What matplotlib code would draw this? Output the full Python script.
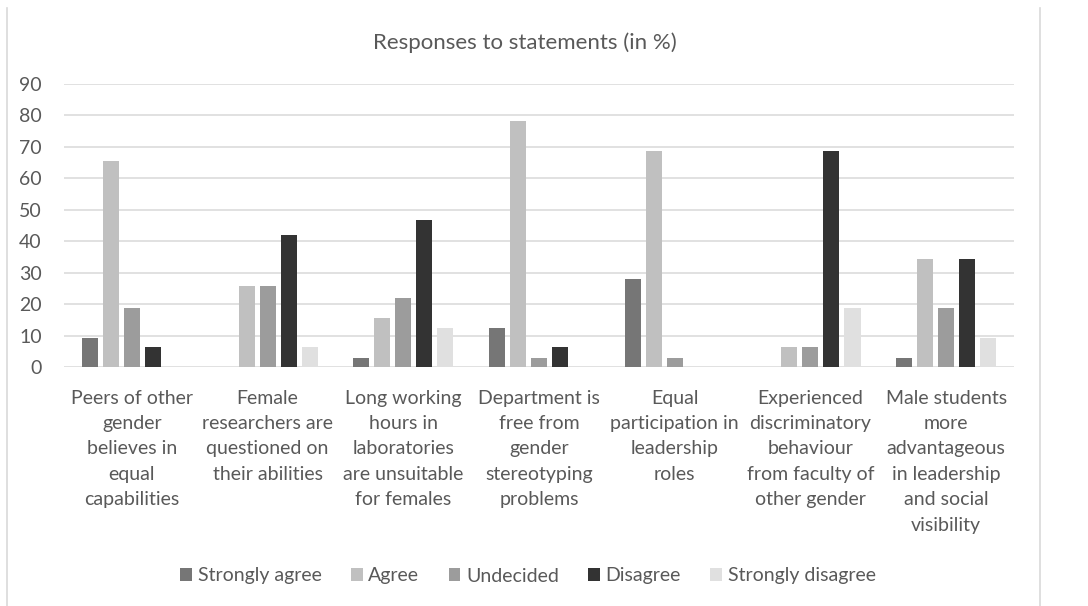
import matplotlib
matplotlib.use("Agg")
import matplotlib.pyplot as plt
import numpy as np

plt.rcParams['font.family'] = ['Lato', 'DejaVu Sans']

statements = [
    "Peers of other\ngender\nbelieves in\nequal\ncapabilities",
    "Female\nresearchers are\nquestioned on\ntheir abilities",
    "Long working\nhours in\nlaboratories\nare unsuitable\nfor females",
    "Department is\nfree from\ngender\nstereotyping\nproblems",
    "Equal\nparticipation in\nleadership\nroles",
    "Experienced\ndiscriminatory\nbehaviour\nfrom faculty of\nother gender",
    "Male students\nmore\nadvantageous\nin leadership\nand social\nvisibility",
]

strongly_agree = [9.4, 0, 3.1, 12.5, 28.1, 0, 3.1]
agree = [65.6, 25.8, 15.6, 78.1, 68.8, 6.3, 34.4]
undecided = [18.8, 25.8, 21.9, 3.1, 3.1, 6.3, 18.8]
disagree = [6.3, 41.9, 46.9, 6.3, 0, 68.8, 34.4]
strongly_disagree = [0, 6.5, 12.5, 0, 0, 18.8, 9.4]

series_names = ["Strongly agree", "Agree", "Undecided", "Disagree", "Strongly disagree"]
series_colors = ["#767676", "#c0c0c0", "#9c9c9c", "#333333", "#e0e0e0"]
y_ticks = [0, 10, 20, 30, 40, 50, 60, 70, 80, 90]

text_color = "#595959"
grid_color = "#d9d9d9"
fs = 14

W, H = 1088, 606
fig = plt.figure(figsize=(W / 100, H / 100), dpi=100)
fig.patch.set_facecolor("white")

# plot area in pixel coordinates
left, right, top, bottom = 64, 1014, 83.7, 367.3
ax = fig.add_axes([left / W, 1 - bottom / H, (right - left) / W, (bottom - top) / H])

x = np.arange(len(statements))
step = 0.155
width = 0.118
all_series = [strongly_agree, agree, undecided, disagree, strongly_disagree]
for i, (vals, name, col) in enumerate(zip(all_series, series_names, series_colors)):
    ax.bar(x + (i - 2) * step, vals, width=width, color=col, label=name, zorder=3)

ax.set_xlim(-0.5, len(statements) - 0.5)
ax.set_ylim(0, 90)
ax.set_yticks(y_ticks)
ax.yaxis.grid(True, color=grid_color, linewidth=1.1, zorder=0)
ax.set_axisbelow(True)
for s in ax.spines.values():
    s.set_visible(False)
ax.tick_params(axis="both", length=0, colors=text_color, labelsize=fs)
ax.tick_params(axis="y", pad=16)
ax.set_xticks(x)
ax.set_xticklabels(statements, linespacing=1.6, color=text_color, fontsize=fs)
ax.tick_params(axis="x", pad=16)

fig.text(525 / W, 1 - 43 / H, "Responses to statements (in %)", ha="center", va="center",
         color=text_color, fontsize=16)

leg = fig.legend(loc="center", bbox_to_anchor=(528 / W, 1 - 576 / H), ncol=5, frameon=False,
                 fontsize=fs, handlelength=0.6, handleheight=0.6, handletextpad=0.3,
                 columnspacing=1.5)
for t in leg.get_texts():
    t.set_color(text_color)

# chart area side borders
fig.add_artist(plt.Line2D([7 / W, 7 / W], [0, 1 - 8 / H], transform=fig.transFigure,
                          color=grid_color, linewidth=1.2))
fig.add_artist(plt.Line2D([1040 / W, 1040 / W], [0, 1 - 8 / H], transform=fig.transFigure,
                          color=grid_color, linewidth=1.2))

fig.savefig("out.png", dpi=100, facecolor="white")
